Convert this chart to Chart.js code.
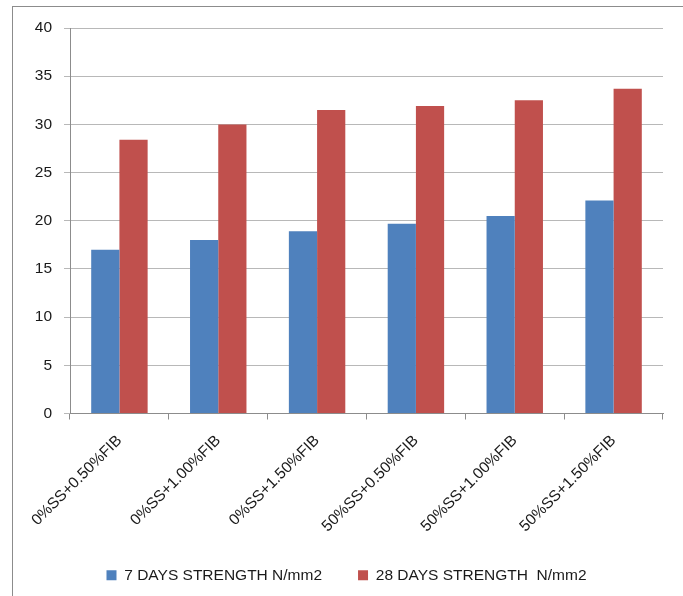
<!DOCTYPE html>
<html>
<head>
<meta charset="utf-8">
<script src="https://cdn.jsdelivr.net/npm/chart.js@4/dist/chart.umd.min.js"></script>
<style>
    html, body { margin: 0; padding: 0; background: #fff; }
    #wrap { position: relative; width: 683px; height: 596px; }
    #frame { position: absolute; left: 12px; top: 6px; width: 700px; height: 620px; border: 1px solid #8c8c8c; pointer-events: none; }
</style>
</head>
<body>
<div id="wrap">
    <canvas id="strengthChart" width="683" height="596"></canvas>
    <div id="frame"></div>
</div>
<script>
const categories = ['0%SS+0.50%FIB', '0%SS+1.00%FIB', '0%SS+1.50%FIB', '50%SS+0.50%FIB', '50%SS+1.00%FIB', '50%SS+1.50%FIB'];
const days7 = [17.0, 18.0, 18.9, 19.7, 20.5, 22.1];
const days28 = [28.4, 30.0, 31.5, 31.9, 32.5, 33.7];
const yTicks = [0, 5, 10, 15, 20, 25, 30, 35, 40];

const textFont = { family: "'Liberation Sans', Arial, sans-serif", size: 15.5 };
const textColor = '#1a1a1a';

const ctx = document.getElementById('strengthChart').getContext('2d');

const chart = new Chart(ctx, {
    type: 'bar',
    data: {
        labels: categories,
        datasets: [{
            label: '7 DAYS STRENGTH N/mm2',
            data: days7,
            backgroundColor: '#4f81bd',
            categoryPercentage: 0.571,
            barPercentage: 1
        }, {
            label: '28 DAYS STRENGTH  N/mm2',
            data: days28,
            backgroundColor: '#c0504d',
            categoryPercentage: 0.571,
            barPercentage: 1
        }]
    },
    options: {
        responsive: false,
        animation: false,
        layout: {
            padding: { left: 30, right: 20, top: 28, bottom: 3 }
        },
        plugins: {
            legend: {
                position: 'bottom',
                labels: {
                    boxWidth: 10,
                    boxHeight: 10,
                    padding: 36,
                    color: textColor,
                    font: textFont
                }
            },
            tooltip: { enabled: false }
        },
        scales: {
            x: {
                afterFit: (scale) => { scale.height = 118; },
                grid: {
                    drawOnChartArea: false,
                    drawTicks: true,
                    tickLength: 6,
                    color: '#8c8c8c'
                },
                border: { color: '#8c8c8c' },
                ticks: {
                    minRotation: 45,
                    maxRotation: 45,
                    padding: 12,
                    color: textColor,
                    font: textFont
                }
            },
            y: {
                min: 0,
                max: 40,
                afterFit: (scale) => { scale.width = 40; },
                afterBuildTicks: (scale) => { scale.ticks = yTicks.map(v => ({ value: v })); },
                grid: {
                    color: '#b8b8b8',
                    tickLength: 6
                },
                border: { color: '#8c8c8c' },
                ticks: {
                    padding: 12,
                    color: textColor,
                    font: textFont
                }
            }
        }
    }
});
</script>
</body>
</html>
